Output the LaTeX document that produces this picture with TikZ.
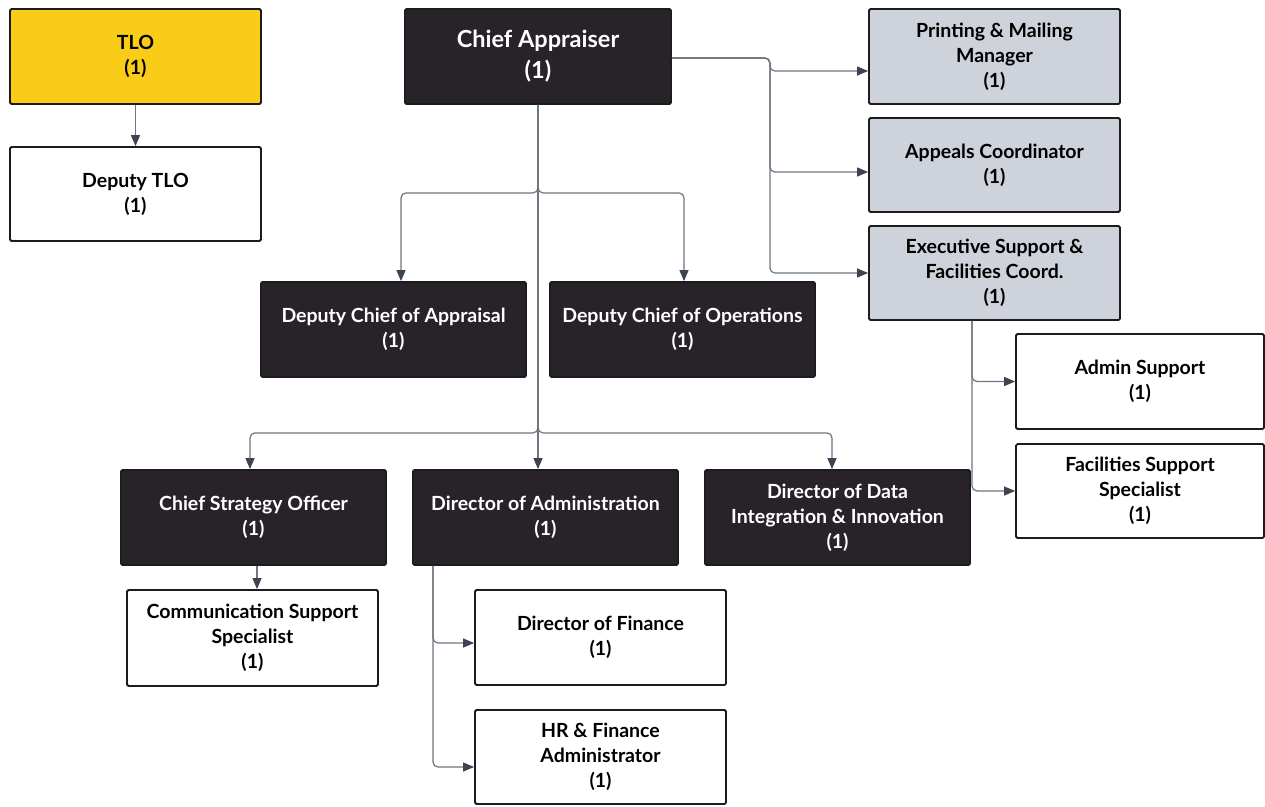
\documentclass[tikz,border=0pt]{standalone}
\usepackage{fontspec}
\setmainfont{Lato}
\usetikzlibrary{arrows.meta}
\definecolor{tloyellow}{HTML}{F9CD17}
\definecolor{darkfill}{HTML}{272329}
\definecolor{grayfill}{HTML}{CED3DB}
\definecolor{edge}{HTML}{1C1C1E}
\definecolor{connc}{HTML}{70757F}
\definecolor{tipc}{HTML}{3D4350}
\tikzset{
  box/.style={rectangle, draw=edge, line width=1.8pt, rounded corners=1.5pt,
    align=center, inner sep=2pt, font=\bfseries\fontsize{19.5}{25}\selectfont},
  darkbox/.style={box, fill=darkfill, text=white},
  whitebox/.style={box, fill=white, text=black},
  graybox/.style={box, fill=grayfill, text=black},
  yellowbox/.style={box, fill=tloyellow, text=black},
  conn/.style={draw=connc, line width=1.2pt, rounded corners=5pt,
    -{Triangle[length=11pt,width=9pt,color=tipc]}},
}
\begin{document}
\begin{tikzpicture}[x=1pt,y=-1pt]
\useasboundingbox (0,0) rectangle (1265,806);
\fill[white] (0,0) rectangle (1265,806);

% top row
\node[yellowbox, minimum width=251, minimum height=95] (tlo) at (135.5,56.5) {TLO\\(1)};
\node[whitebox, minimum width=251, minimum height=94] (dtlo) at (135.5,194) {Deputy TLO\\(1)};
\node[darkbox, minimum width=266, minimum height=95, font=\bfseries\fontsize{23.5}{31}\selectfont] (ca) at (538,56.5) {Chief Appraiser\\(1)};

% staff reporting to the chief appraiser
\node[graybox, minimum width=251, minimum height=95] (pmm) at (994.5,56.5) {Printing \& Mailing\\Manager\\(1)};
\node[graybox, minimum width=251, minimum height=94] (ac) at (994.5,165) {Appeals Coordinator\\(1)};
\node[graybox, minimum width=251, minimum height=94] (es) at (994.5,273) {Executive Support \&\\Facilities Coord.\\(1)};
\node[whitebox, minimum width=248, minimum height=95] (as) at (1140,381.5) {Admin Support\\(1)};
\node[whitebox, minimum width=248, minimum height=94] (fss) at (1140,491) {Facilities Support\\Specialist\\(1)};

% deputy chiefs
\node[darkbox, minimum width=265, minimum height=95] (dca) at (393.5,329.5) {Deputy Chief of Appraisal\\(1)};
\node[darkbox, minimum width=265, minimum height=95] (dco) at (682.5,329.5) {Deputy Chief of Operations\\(1)};

% directors
\node[darkbox, minimum width=265, minimum height=95] (cso) at (253.5,517.5) {Chief Strategy Officer\\(1)};
\node[darkbox, minimum width=265, minimum height=95] (da) at (545.5,517.5) {Director of Administration\\(1)};
\node[darkbox, minimum width=265, minimum height=95] (ddi) at (837.5,517.5) {Director of Data\\Integration \& Innovation\\(1)};

% lower level
\node[whitebox, minimum width=251, minimum height=96] (css) at (252.5,638) {Communication Support\\Specialist\\(1)};
\node[whitebox, minimum width=251, minimum height=95] (df) at (600.5,637.5) {Director of Finance\\(1)};
\node[whitebox, minimum width=251, minimum height=94] (hr) at (600.5,757) {HR \& Finance\\Administrator\\(1)};

% connectors
\draw[conn] (tlo.south) -- (dtlo.north);

\draw[conn] (ca.south) -- ++(0,88) -| ([xshift=7.5pt]dca.north);
\draw[conn] (ca.south) -- ++(0,88) -| ([xshift=1.5pt]dco.north);
\draw[conn] (ca.south) -- ++(0,328) -| ([xshift=-3.5pt]cso.north);
\draw[conn] (ca.south) -- (ca.south |- da.north);
\draw[conn] (ca.south) -- ++(0,328) -| ([xshift=-5.5pt]ddi.north);

\draw[conn] ([yshift=-1.5pt]ca.east) -- ++(98,0) |- ([yshift=-14.5pt]pmm.west);
\draw[conn] ([yshift=-1.5pt]ca.east) -- ++(98,0) |- ([yshift=-7pt]ac.west);
\draw[conn] ([yshift=-1.5pt]ca.east) -- ++(98,0) |- (es.west);

\draw[conn] ([xshift=-22.5pt]es.south) |- (as.west);
\draw[conn] ([xshift=-22.5pt]es.south) |- (fss.west);

\draw[conn] ([xshift=3.5pt]cso.south) -- ([xshift=3.5pt]cso.south |- css.north);

\draw[conn] ([xshift=-112.5pt]da.south) |- ([yshift=-5.5pt]df.west);
\draw[conn] ([xshift=-112.5pt]da.south) |- ([yshift=-10pt]hr.west);
\end{tikzpicture}
\end{document}
